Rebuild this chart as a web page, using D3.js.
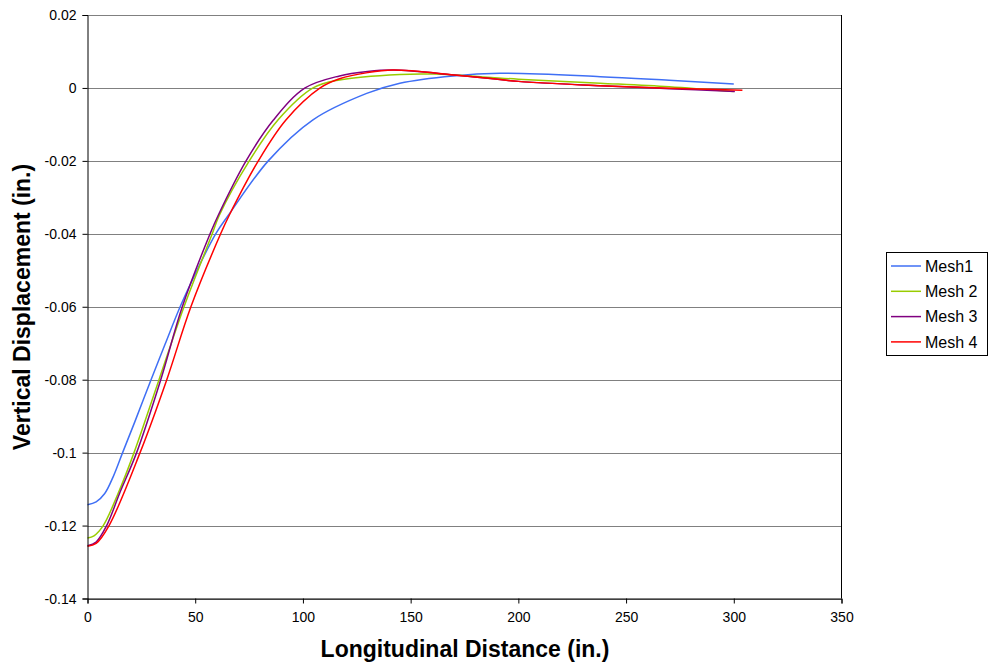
<!DOCTYPE html>
<html>
<head>
<meta charset="utf-8">
<script src="https://cdn.jsdelivr.net/npm/d3@7"></script>
<style>
  body { margin: 0; background: #fff; }
  svg { display: block; font-family: Arial, "Liberation Sans", sans-serif; }
</style>
</head>
<body>
<svg id="chart" width="989" height="664"></svg>
<script>
// ---- data ----
const seriesNames = ["Mesh1", "Mesh 2", "Mesh 3", "Mesh 4"];
const seriesColors = ["#3f6ff5", "#99cc00", "#800080", "#ff0000"];

const mesh1X = [0, 4, 8, 12, 16.3, 22, 29.5, 36, 43, 51, 59.5, 65.4, 83.9, 104.5, 129.6, 145, 169.7, 191.5, 238, 270, 300];
const mesh1Y = [-0.1143, -0.1135, -0.1112, -0.1065, -0.1000, -0.0915, -0.0800, -0.0703, -0.0600, -0.0498, -0.0400, -0.0349, -0.0200, -0.0088, -0.0015, 0.0013, 0.0033, 0.0040, 0.0031, 0.0021, 0.0011];

const mesh2X = [0, 3, 7.3, 14, 21.6, 33.2, 44.8, 57.9, 61.2, 75.1, 88.4, 104.7, 117, 145, 160.6, 200, 238, 270, 300];
const mesh2Y = [-0.1234, -0.1228, -0.1200, -0.1115, -0.1000, -0.0800, -0.0600, -0.0400, -0.0349, -0.0200, -0.0088, 0.0000, 0.0022, 0.0037, 0.0038, 0.0024, 0.0013, 0.0003, -0.0010];

const mesh3X = [0, 4, 8.9, 15, 22.8, 34, 44, 56.9, 60.7, 73.6, 86.3, 101, 117, 130, 142, 171.5, 200, 238, 270, 300.5];
const mesh3Y = [-0.1255, -0.1245, -0.1200, -0.1110, -0.1000, -0.0800, -0.0600, -0.0400, -0.0349, -0.0200, -0.0088, 0.0000, 0.0033, 0.0045, 0.0049, 0.0035, 0.0018, 0.0006, -0.0002, -0.0010];

const mesh4X = [0, 4, 10, 24.4, 36.8, 48, 61.8, 65.8, 79.3, 92.1, 108, 117, 130, 142, 171.5, 200, 238, 270, 304];
const mesh4Y = [-0.1257, -0.1249, -0.1200, -0.1000, -0.0800, -0.0600, -0.0400, -0.0349, -0.0200, -0.0088, 0.0000, 0.0025, 0.0042, 0.0049, 0.0035, 0.0018, 0.0006, -0.0001, -0.0006];

const xTicks = [0, 50, 100, 150, 200, 250, 300, 350];
const yTicks = [0.02, 0, -0.02, -0.04, -0.06, -0.08, -0.1, -0.12, -0.14];

const xTitle = "Longitudinal Distance (in.)";
const yTitle = "Vertical Displacement (in.)";

// ---- layout ----
const svg = d3.select("#chart");
const L = 87.5, R = 841.5, T = 15, B = 598.5;

const x = d3.scaleLinear().domain([0, 350]).range([L, R]);
const y = d3.scaleLinear().domain([-0.14, 0.02]).range([B, T]);

const allX = [mesh1X, mesh2X, mesh3X, mesh4X];
const allY = [mesh1Y, mesh2Y, mesh3Y, mesh4Y];
const series = seriesNames.map((name, i) => ({
  name, color: seriesColors[i],
  values: allX[i].map((xv, j) => ({ x: xv, y: allY[i][j] }))
}));

// gridlines
svg.append("g")
  .selectAll("line")
  .data(yTicks)
  .join("line")
  .attr("x1", L).attr("x2", R)
  .attr("y1", d => Math.round(y(d)) + 0.5).attr("y2", d => Math.round(y(d)) + 0.5)
  .attr("stroke", "#808080").attr("stroke-width", 1);

// right border
svg.append("line")
  .attr("x1", R).attr("x2", R).attr("y1", T).attr("y2", B)
  .attr("stroke", "#000").attr("stroke-width", 1);

// series
const line = d3.line().x(d => x(d.x)).y(d => y(d.y)).curve(d3.curveCatmullRom.alpha(0.5));
svg.append("g")
  .selectAll("path")
  .data(series)
  .join("path")
  .attr("fill", "none")
  .attr("stroke", d => d.color)
  .attr("stroke-width", 1.5)
  .attr("d", d => line(d.values));

// axes
const yAxis = d3.axisLeft(y).tickValues(yTicks).tickSize(5).tickPadding(6)
  .tickFormat(d => d === 0 ? "0" : String(+d.toFixed(2)));
const gy = svg.append("g").attr("transform", `translate(${L},0)`).call(yAxis);
const xAxis = d3.axisBottom(x).tickValues(xTicks).tickSize(5).tickPadding(9).tickFormat(d3.format("d"));
const gx = svg.append("g").attr("transform", `translate(0,${B})`).call(xAxis);
[gy, gx].forEach(g => {
  g.select(".domain").attr("stroke", "#000");
  g.selectAll(".tick line").attr("stroke", "#000");
  g.selectAll("text").attr("font-size", 14).attr("fill", "#000")
    .attr("font-family", "Arial, 'Liberation Sans', sans-serif");
});
gy.selectAll(".tick text").attr("dy", "0.35em");

// titles
svg.append("text")
  .attr("x", 465).attr("y", 657)
  .attr("text-anchor", "middle")
  .attr("font-size", 23).attr("font-weight", "bold")
  .text(xTitle);
svg.append("text")
  .attr("transform", `translate(30,307) rotate(-90)`)
  .attr("text-anchor", "middle")
  .attr("font-size", 23).attr("font-weight", "bold")
  .text(yTitle);

// legend
const lg = svg.append("g");
lg.append("rect")
  .attr("x", 886.5).attr("y", 252.5).attr("width", 101).attr("height", 103)
  .attr("fill", "#fff").attr("stroke", "#000").attr("stroke-width", 1);
const items = lg.selectAll("g.item").data(series).join("g")
  .attr("transform", (d, i) => `translate(0,${266 + i * 25.3})`);
items.append("line")
  .attr("x1", 891).attr("x2", 921).attr("y1", 0).attr("y2", 0)
  .attr("stroke", d => d.color).attr("stroke-width", 1.5);
items.append("text")
  .attr("x", 925).attr("y", 0).attr("dy", "0.36em")
  .attr("font-size", 16).attr("fill", "#000")
  .text(d => d.name);
</script>
</body>
</html>
